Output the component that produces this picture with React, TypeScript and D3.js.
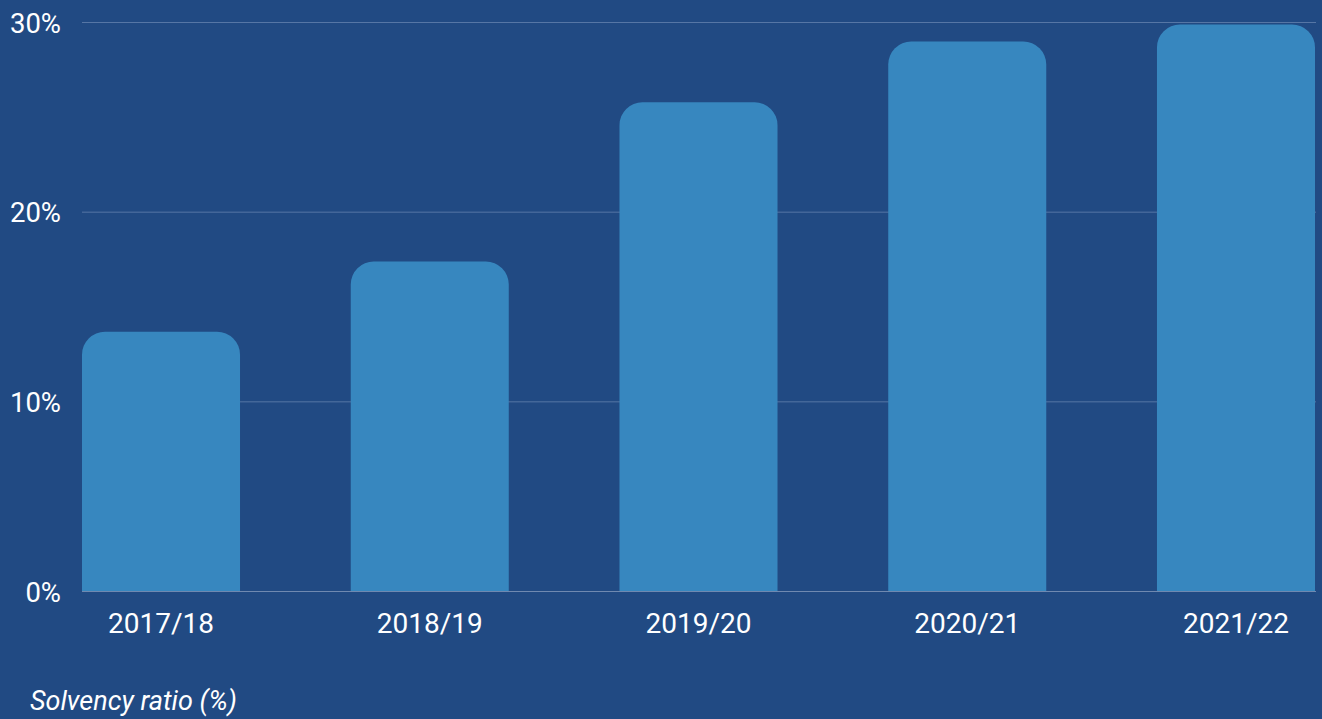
import React from "react";
import * as d3 from "d3";

const categories = ["2017/18", "2018/19", "2019/20", "2020/21", "2021/22"];
const values = [13.7, 17.4, 25.8, 29.0, 29.9];
const yTicks = [0, 10, 20, 30];
const axisTitle = "Solvency ratio (%)";

const W = 1322;
const H = 719;

function roundedTopBar(x: number, y: number, w: number, h: number, r: number) {
  const rr = Math.min(r, w / 2, h);
  const p = d3.path();
  p.moveTo(x, y + h);
  p.lineTo(x, y + rr);
  p.arcTo(x, y, x + rr, y, rr);
  p.lineTo(x + w - rr, y);
  p.arcTo(x + w, y, x + w, y + rr, rr);
  p.lineTo(x + w, y + h);
  p.closePath();
  return p.toString();
}

export default function App() {
  const x = d3.scaleBand<string>().domain(categories).range([82, 1315]).paddingInner(0.412).paddingOuter(0);
  const y = d3.scaleLinear().domain([0, 30]).range([591.5, 22.5]);
  const font = "Roboto, 'Noto Sans', sans-serif";
  return (
    <svg width={W} height={H} style={{ position: "fixed", left: 0, top: 0, display: "block" }}>
      <rect x={0} y={0} width={W} height={H} fill="#214A83" />
      {yTicks.map((t) => (
        <g key={t}>
          <line x1={82} x2={1316} y1={y(t)} y2={y(t)} stroke={t === 0 ? "#6F89B0" : "#5676A5"} strokeWidth={1} />
          <text x={61} y={y(t) + 10} textAnchor="end" fill="#FFFFFF" fontFamily={font} fontSize={27.5}>
            {t}%
          </text>
        </g>
      ))}
      {categories.map((c, i) => (
        <path
          key={c}
          d={roundedTopBar(x(c)!, y(values[i]), x.bandwidth(), y(0) - y(values[i]) - 0.5, 23)}
          fill="#3787BF"
        />
      ))}
      {categories.map((c) => (
        <text key={c} x={x(c)! + x.bandwidth() / 2} y={633} textAnchor="middle" fill="#FFFFFF" fontFamily={font} fontSize={28}>
          {c}
        </text>
      ))}
      <text x={30} y={710} fill="#FFFFFF" fontFamily={font} fontSize={27} fontStyle="italic">
        {axisTitle}
      </text>
    </svg>
  );
}
